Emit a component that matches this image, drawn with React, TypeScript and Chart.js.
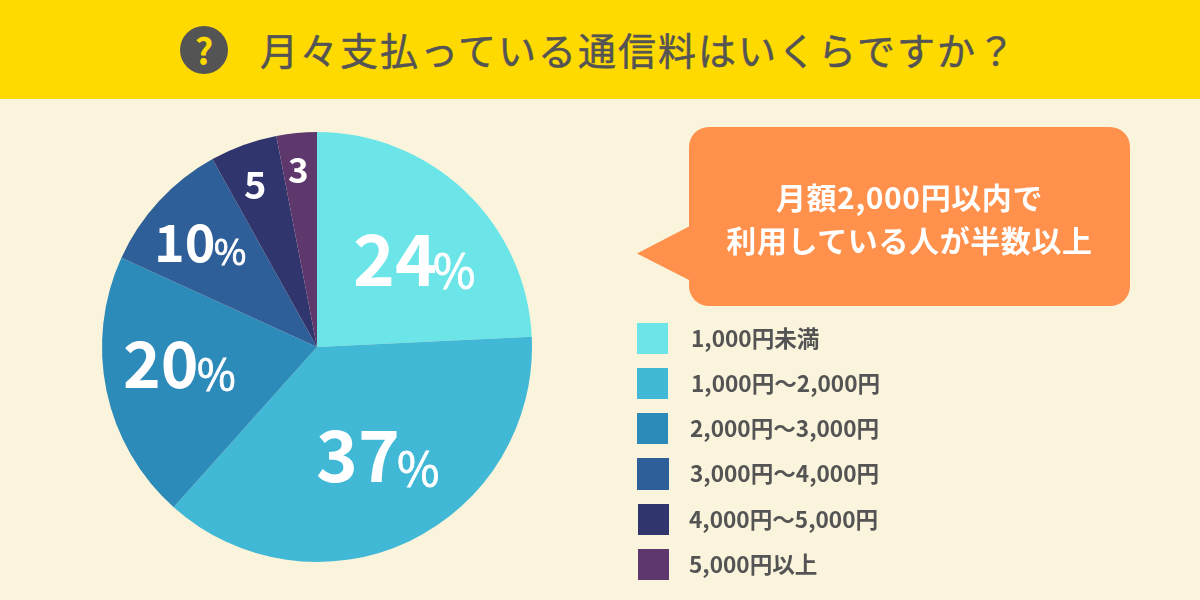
import React, { useEffect, useRef } from "react";
import { Chart, registerables } from "chart.js";

Chart.register(...registerables);

const FONT = '"Noto Sans CJK JP", "Noto Sans", sans-serif';
const TITLE = "月々支払っている通信料はいくらですか？";
const CALLOUT = ["月額2,000円以内で", "利用している人が半数以上"];
const categories = ["1,000円未満", "1,000円〜2,000円", "2,000円〜3,000円", "3,000円〜4,000円", "4,000円〜5,000円", "5,000円以上"];
const values = [24, 37, 20, 10, 5, 3];
const colors = ["#6CE5E8", "#41B8D5", "#2D8BBA", "#2F5F98", "#31356E", "#5E376D"];
const percentSigns = [true, true, true, true, false, false];

// label layout, px: number x, baseline y, number size, % x, % baseline, % size
const labelLayout = [
  { x: 353, y: 286, size: 71, px: 433, py: 288, psize: 46 },
  { x: 316, y: 482, size: 71, px: 397, py: 486, psize: 46 },
  { x: 123, y: 388, size: 64, px: 197, py: 390, psize: 42 },
  { x: 154, y: 262, size: 52, px: 214, py: 265, psize: 35 },
  { x: 244, y: 199, size: 38, px: 0, py: 0, psize: 0 },
  { x: 288, y: 183, size: 35, px: 0, py: 0, psize: 0 },
];
const legendBoxes = [
  { x: 637, y: 323, w: 31, h: 31, tx: 691 },
  { x: 637, y: 368, w: 31, h: 31, tx: 691 },
  { x: 637, y: 413, w: 31, h: 31, tx: 690 },
  { x: 637, y: 458, w: 32, h: 32, tx: 690 },
  { x: 638, y: 504, w: 31, h: 31, tx: 689 },
  { x: 638, y: 549, w: 31, h: 31, tx: 689 },
];

const sliceLabels = {
  id: "sliceLabels",
  afterDatasetsDraw(chart: any) {
    const ctx = chart.ctx;
    ctx.save();
    ctx.fillStyle = "#ffffff";
    ctx.strokeStyle = "#ffffff";
    ctx.lineWidth = 0.8;
    ctx.textAlign = "left";
    ctx.textBaseline = "alphabetic";
    values.forEach((v, i) => {
      const l = labelLayout[i];
      ctx.font = `700 ${l.size}px ${FONT}`;
      ctx.fillText(String(v), l.x, l.y);
      if (percentSigns[i]) {
        ctx.font = `400 ${l.psize}px ${FONT}`;
        ctx.fillText("%", l.px, l.py);
        ctx.strokeText("%", l.px, l.py);
      }
    });
    ctx.restore();
  },
};

export default function App() {
  const ref = useRef<HTMLCanvasElement>(null);
  useEffect(() => {
    document.body.style.margin = "0";
    const chart = new Chart(ref.current!, {
      type: "pie",
      data: {
        labels: categories,
        datasets: [{ data: values, backgroundColor: colors, borderWidth: 0 }],
      },
      options: {
        animation: false,
        responsive: false,
        devicePixelRatio: 1,
        layout: { padding: { left: 102, right: 668, top: 132, bottom: 38 } },
        plugins: { legend: { display: false }, tooltip: { enabled: false }, title: { display: false } },
      },
      plugins: [sliceLabels],
    } as any);
    return () => chart.destroy();
  }, []);

  return (
    <div style={{ position: "relative", width: 1200, height: 600, background: "#FBF4DC", overflow: "hidden", fontFamily: FONT }}>
      <div style={{ position: "absolute", left: 0, top: 0, width: 1200, height: 99, background: "#FFDA00" }} />
      <div style={{ position: "absolute", left: 180, top: 26, width: 48, height: 48, borderRadius: 24, background: "#545454", color: "#FFDA00", fontSize: 36, fontWeight: 700, lineHeight: "46px", textAlign: "center" }}>?</div>
      <div style={{ position: "absolute", left: 260, top: 23, height: 52, lineHeight: "52px", fontSize: 38, fontWeight: 400, letterSpacing: 2, color: "#545454", whiteSpace: "nowrap", WebkitTextStroke: "0.5px #545454" } as any}>{TITLE}</div>

      <canvas ref={ref} width={1200} height={600} style={{ position: "absolute", left: 0, top: 0, display: "block" }} />

      <svg width={1200} height={600} style={{ position: "absolute", left: 0, top: 0 }}>
        <path d="M689 147 a20 20 0 0 1 20 -20 H1110 a20 20 0 0 1 20 20 V286 a20 20 0 0 1 -20 20 H709 a20 20 0 0 1 -20 -20 V280 L637 253.5 L689 226.5 Z" fill="#FF914D" />
      </svg>
      <div style={{ position: "absolute", left: 689, top: 175, width: 441, textAlign: "center", color: "#fff", fontSize: 30, fontWeight: 700, lineHeight: "43px", letterSpacing: 0.6, whiteSpace: "nowrap" }}>
        {CALLOUT.map((t) => <div key={t}>{t}</div>)}
      </div>

      {categories.map((c, i) => {
        const b = legendBoxes[i];
        return (
          <React.Fragment key={c}>
            <div style={{ position: "absolute", left: b.x, top: b.y, width: b.w, height: b.h, background: colors[i] }} />
            <div style={{ position: "absolute", left: b.tx, top: b.y - 1, height: 31, lineHeight: "31px", fontSize: 22.6, fontWeight: 700, color: "#545454", whiteSpace: "nowrap" }}>{c}</div>
          </React.Fragment>
        );
      })}
    </div>
  );
}
